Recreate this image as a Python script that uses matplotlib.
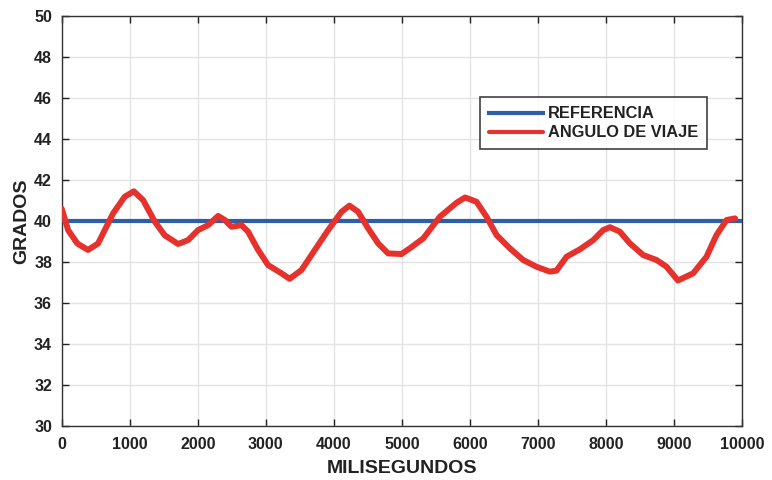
import numpy as np
import matplotlib.pyplot as plt

plt.rcParams['font.family'] = ['Liberation Sans', 'DejaVu Sans']
plt.rcParams['font.weight'] = 'bold'

# ------------------------------
# Datos
# ------------------------------
ref_t = [0, 10000]
ref_val = [40, 40]

ang_t = [0, 93, 230, 386, 533, 754, 926, 1060, 1196, 1368, 1515, 1711, 1858,
         2005, 2152, 2299, 2397, 2495, 2642, 2740, 2887, 3034, 3230, 3350,
         3525, 3721, 3917, 4113, 4230, 4358, 4505, 4652, 4799, 4995, 5118,
         5314, 5559, 5804, 5930, 6098, 6245, 6392, 6588, 6784, 6980, 7176,
         7274, 7422, 7618, 7814, 7961, 8060, 8206, 8353, 8549, 8745, 8892,
         9060, 9284, 9480, 9627, 9774, 9900]
ang_val = [40.6, 39.56, 38.9, 38.59, 38.9, 40.37, 41.19, 41.45, 41.02, 39.97,
           39.3, 38.88, 39.07, 39.56, 39.8, 40.25, 40.05, 39.72, 39.8, 39.48,
           38.59, 37.85, 37.45, 37.18, 37.61, 38.59, 39.56, 40.45, 40.75,
           40.45, 39.64, 38.91, 38.42, 38.39, 38.67, 39.15, 40.21, 40.89,
           41.15, 40.94, 40.21, 39.32, 38.67, 38.1, 37.77, 37.53, 37.58,
           38.26, 38.62, 39.07, 39.56, 39.7, 39.48, 38.91, 38.34, 38.1, 37.77,
           37.1, 37.45, 38.26, 39.32, 40.05, 40.13]

xticks = np.arange(0, 10001, 1000)
yticks = np.arange(30, 51, 2)

# ------------------------------
# Gráfico
# ------------------------------
fig = plt.figure(figsize=(7.72, 4.8), dpi=100)
ax = fig.add_axes([0.080, 0.1125, 0.881, 0.854])

ax.plot(ref_t, ref_val, color='#2c5fa6', linewidth=3.0, label='REFERENCIA', zorder=3)
ax.plot(ang_t, ang_val, color='#e5322d', linewidth=4.3, label='ANGULO DE VIAJE',
        solid_capstyle='round', solid_joinstyle='round', zorder=4)

ax.set_xlim(0, 10000)
ax.set_ylim(30, 50)
ax.set_xticks(xticks)
ax.set_yticks(yticks)
ax.tick_params(direction='in', length=5, width=1, top=True, right=True,
               labelsize=11.5, colors='#222222')
ax.tick_params(axis='x', pad=8)
ax.tick_params(axis='y', pad=7)
for lbl in ax.get_xticklabels() + ax.get_yticklabels():
    lbl.set_fontweight('bold')

ax.grid(True, color='#e3e3e3', linewidth=1)
ax.set_axisbelow(True)
for sp in ax.spines.values():
    sp.set_color('#333333')
    sp.set_linewidth(1)

ax.set_xlabel('MILISEGUNDOS', fontsize=14, fontweight='bold', color='#222222', labelpad=6)
ax.set_ylabel('GRADOS', fontsize=14, fontweight='bold', color='#222222', labelpad=3)

leg = ax.legend(loc='upper right', bbox_to_anchor=(0.9485, 0.802), borderaxespad=0,
                fontsize=11.8, frameon=True, fancybox=False, edgecolor='#111111',
                handlelength=3.3, handletextpad=0.3, borderpad=0.55, labelspacing=0.25)
leg.get_frame().set_linewidth(1.2)
for h in leg.get_lines():
    h.set_linewidth(3.0)
for t in leg.get_texts():
    t.set_fontweight('bold')
    t.set_color('#222222')

fig.savefig('out.png', dpi=100)
